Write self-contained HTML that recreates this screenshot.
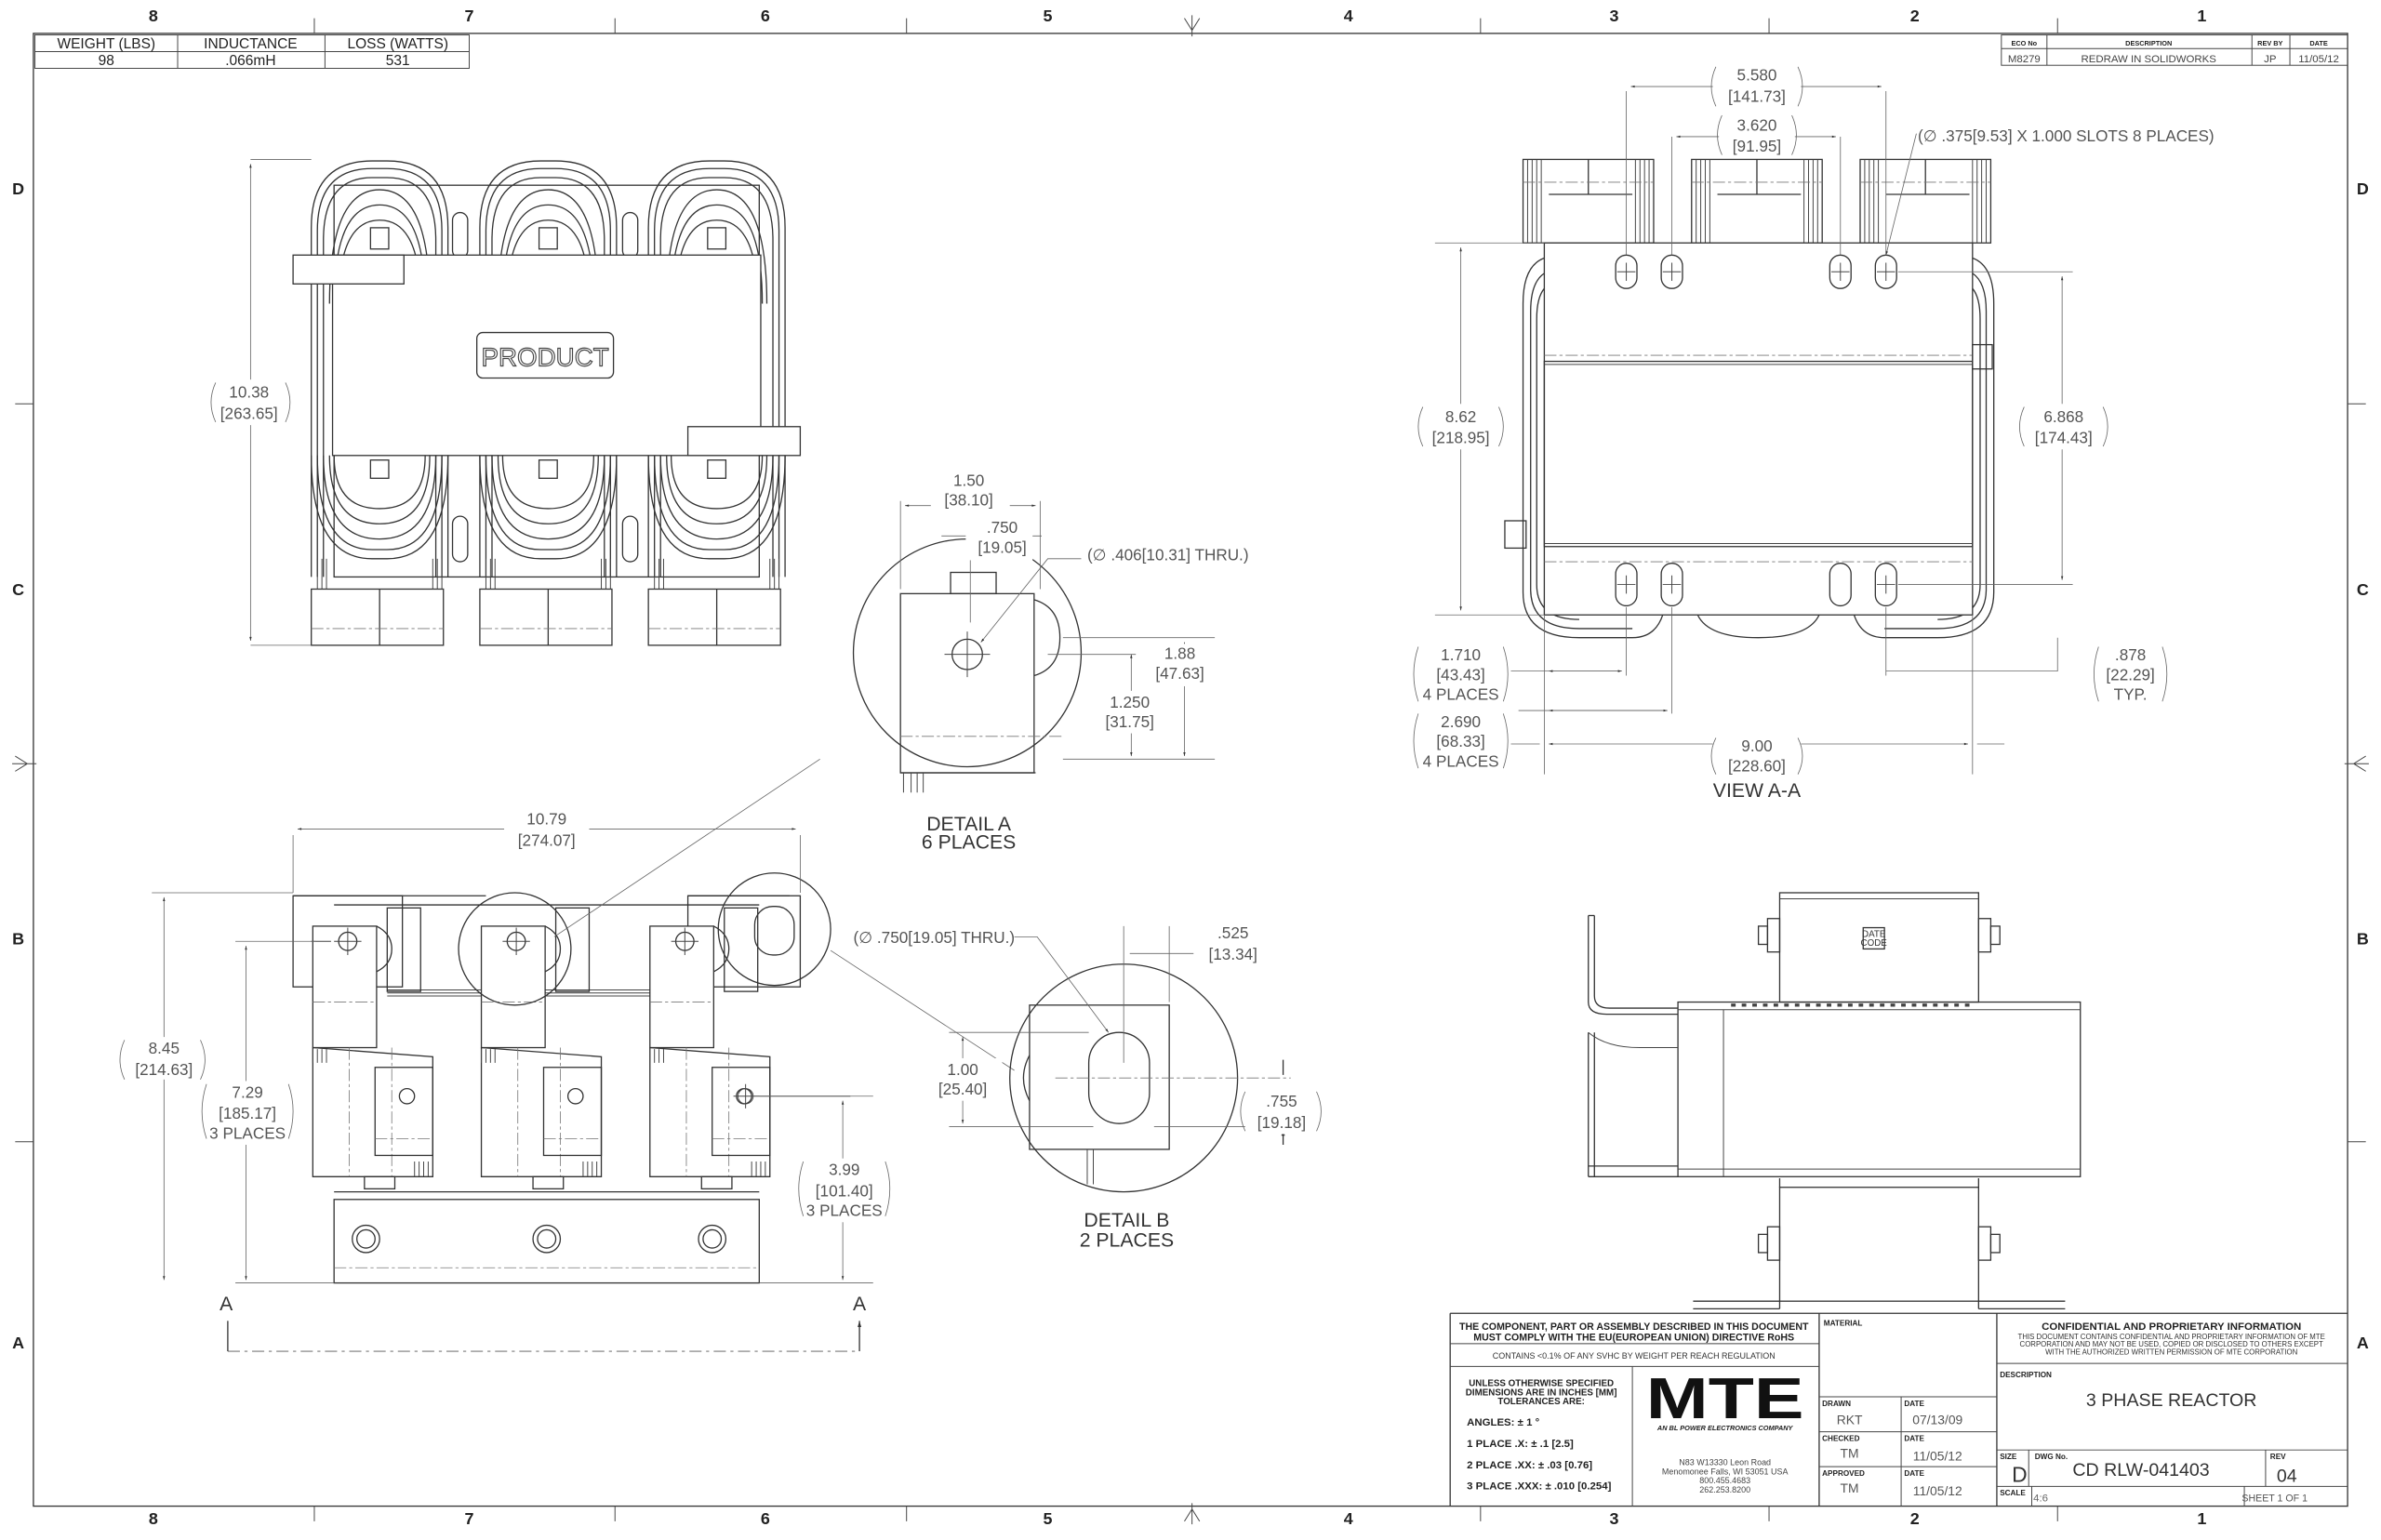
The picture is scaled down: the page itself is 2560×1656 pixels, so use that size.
<!DOCTYPE html>
<html><head><meta charset="utf-8"><style>
html,body{margin:0;padding:0;background:#fff;}
svg{display:block;}
text{font-family:"Liberation Sans",sans-serif;}
.l{stroke:#333;stroke-width:0.8;fill:none;}
.t{stroke:#444;stroke-width:0.6;fill:none;}
.d{stroke:#666;stroke-width:0.5;fill:none;}
.c{stroke:#777;stroke-width:0.5;fill:none;stroke-dasharray:8 2 2 2;}
.w{fill:#fff;stroke:#333;stroke-width:0.8;}
.dim{fill:#555;font-size:10.5px;text-anchor:middle;}
.b{font-weight:bold;font-size:11px;fill:#222;text-anchor:middle;}
.s{font-size:6px;fill:#333;}
</style></head><body>
<svg width="2560" height="1656" viewBox="0 0 1568 1014.3" xmlns="http://www.w3.org/2000/svg">
<defs>
<marker id="ar" viewBox="0 0 10 10" refX="10" refY="5" markerWidth="7" markerHeight="5" orient="auto-start-reverse"><path d="M0,2 L10,5 L0,8z" fill="#333"/></marker>
</defs>
<rect width="1568" height="1014.3" fill="#fff"/>
<rect x="22" y="22" width="1524" height="970" class="l" stroke-width="1"/>
<g class="b">
<text x="101" y="14">8</text><text x="309" y="14">7</text><text x="504" y="14">6</text><text x="690" y="14">5</text><text x="888" y="14">4</text><text x="1063" y="14">3</text><text x="1261" y="14">2</text><text x="1450" y="14">1</text>
<text x="101" y="1004">8</text><text x="309" y="1004">7</text><text x="504" y="1004">6</text><text x="690" y="1004">5</text><text x="888" y="1004">4</text><text x="1063" y="1004">3</text><text x="1261" y="1004">2</text><text x="1450" y="1004">1</text>
<text x="12" y="128">D</text><text x="12" y="392">C</text><text x="12" y="622">B</text><text x="12" y="888">A</text>
<text x="1556" y="128">D</text><text x="1556" y="392">C</text><text x="1556" y="622">B</text><text x="1556" y="888">A</text>
</g>
<g class="t">
<path d="M207 12V22M405 12V22M597 12V22M975 12V22M1165 12V22M1355 12V22M207 992V1002M405 992V1002M597 992V1002M975 992V1002M1165 992V1002M1355 992V1002"/>
<path d="M10 266H22M10 752H22M1546 266H1558M1546 752H1558"/>
<path d="M785 10V24M780 12L785 20L790 12M785 990V1004M780 1002L785 994L790 1002M8 503H24M10 498L18 503L10 508M1544 503H1560M1558 498L1550 503L1558 508"/>
</g>
<g>
<rect x="23" y="23" width="286" height="22" class="t"/>
<path d="M23 34H309M117 23V45M214 23V45" class="t"/>
<g font-size="9.5" fill="#222" text-anchor="middle"><text x="70" y="32">WEIGHT (LBS)</text><text x="165" y="32">INDUCTANCE</text><text x="262" y="32">LOSS (WATTS)</text>
<text x="70" y="43">98</text><text x="165" y="43">.066mH</text><text x="262" y="43">531</text></g>
</g>
<g>
<rect x="1318" y="23" width="228" height="20" class="t"/>
<path d="M1318 32H1546M1348 23V43M1483 23V43M1508 23V43" class="t"/>
<g font-size="4.5" font-weight="bold" fill="#222" text-anchor="middle"><text x="1333" y="30">ECO No</text><text x="1415" y="30">DESCRIPTION</text><text x="1495" y="30">REV BY</text><text x="1527" y="30">DATE</text></g>
<g font-size="7" fill="#444" text-anchor="middle"><text x="1333" y="41">M8279</text><text x="1415" y="41">REDRAW IN SOLIDWORKS</text><text x="1495" y="41">JP</text><text x="1527" y="41">11/05/12</text></g>
</g>

<!-- TOP VIEW -->
<g>
<rect x="220" y="122" width="280" height="258" class="l"/>
<g id="coil">
<path d="M205 380V150Q205 106 245 106H255Q295 106 295 150V380" class="l"/>
<path d="M209 380V152Q209 111 245 111H255Q291 111 291 152V380" class="l"/>
<path d="M213 380V158Q213 117 245 117H255Q287 117 287 158V380" class="l"/>
<path d="M217 200Q217 125 250 125Q283 125 283 200" class="l"/>
<path d="M220 200Q220 135 250 135Q280 135 280 200" class="l"/>
<path d="M223 200Q223 145 250 145Q277 145 277 200" class="l"/>
<path d="M205 300Q205 368 245 368H255Q295 368 295 300" class="l"/>
<path d="M209 300Q209 362 245 362H255Q291 362 291 300" class="l"/>
<path d="M213 300Q213 355 250 355Q287 355 287 300" class="l"/>
<path d="M217 300Q217 345 250 345Q283 345 283 300" class="l"/>
<path d="M220 300Q220 335 250 335Q280 335 280 300" class="l"/>
<rect x="244" y="150" width="12" height="14" class="l"/>
<rect x="244" y="303" width="12" height="12" class="l"/>
<rect x="205" y="388" width="87" height="37" class="l"/><path d="M250 388V425" class="l"/><path d="M205 414H292" class="c"/>
<path d="M209 368V388M212 368V388M215 368V388M285 368V388M288 368V388M291 368V388" class="t"/>
</g>
<use href="#coil" x="111"/>
<use href="#coil" x="222"/>
<rect x="298" y="140" width="10" height="30" rx="5" class="l"/><rect x="410" y="140" width="10" height="30" rx="5" class="l"/>
<rect x="298" y="340" width="10" height="30" rx="5" class="l"/><rect x="410" y="340" width="10" height="30" rx="5" class="l"/>
<rect x="219" y="168" width="282" height="132" class="w"/>
<rect x="193" y="168" width="73" height="19" class="w"/>
<rect x="453" y="281" width="74" height="19" class="w"/>
<rect x="314" y="219" width="90" height="30" rx="4" class="l"/>
<text x="359" y="241" font-size="17" fill="#fff" stroke="#444" stroke-width="0.7" text-anchor="middle">PRODUCT</text>
<path d="M165 105H205M165 425H205" class="d"/>
<path d="M165 108V422" class="d" marker-start="url(#ar)" marker-end="url(#ar)"/>
<rect x="140" y="250" width="50" height="30" fill="#fff"/>
<text x="164" y="262" class="dim">10.38</text><text x="164" y="276" class="dim">[263.65]</text>
<path d="M142 252Q136 265 142 278M188 252Q194 265 188 278" class="d"/>
</g>

<!-- DETAIL A -->
<g>
<circle cx="637" cy="430" r="75" class="l"/>
<rect x="593" y="391" width="88" height="118" class="l"/>
<rect x="626" y="377" width="30" height="14" class="l"/>
<path d="M681 395Q698 400 698 420Q698 440 681 445" class="l"/>
<path d="M593 485H700" class="c"/>
<path d="M593 509H682" class="l"/>
<circle cx="637" cy="431" r="10" class="l"/><path d="M622 431H652M637 416V446" class="t"/>
<path d="M595 509V522M600 509V522M604 509V522M608 509V522" class="t"/>
<path d="M593 330V388M685 330V388M639 350V410" class="d"/>
<path d="M596 333H682" class="d" marker-start="url(#ar)" marker-end="url(#ar)"/>
<path d="M620 353H686" class="d"/>
<rect x="613" y="310" width="52" height="28" fill="#fff"/>
<text x="638" y="320" class="dim">1.50</text><text x="638" y="333" class="dim">[38.10]</text>
<rect x="636" y="341" width="44" height="28" fill="#fff"/>
<text x="660" y="351" class="dim">.750</text><text x="660" y="364" class="dim">[19.05]</text>
<path d="M646 423L690 368H712" class="d" marker-start="url(#ar)"/>
<text x="716" y="369" class="dim" style="text-anchor:start">(&#8709; .406[10.31] THRU.)</text>
<path d="M700 420H800M700 500H800M690 431H748" class="d"/>
<path d="M780 423V498" class="d" marker-start="url(#ar)" marker-end="url(#ar)"/>
<path d="M745 431V498" class="d" marker-start="url(#ar)" marker-end="url(#ar)"/>
<rect x="752" y="424" width="50" height="28" fill="#fff"/>
<text x="777" y="434" class="dim">1.88</text><text x="777" y="447" class="dim">[47.63]</text>
<rect x="718" y="455" width="50" height="28" fill="#fff"/>
<text x="744" y="466" class="dim">1.250</text><text x="744" y="479" class="dim">[31.75]</text>
<text x="638" y="547" font-size="13" fill="#333" text-anchor="middle">DETAIL A</text>
<text x="638" y="559" font-size="13" fill="#333" text-anchor="middle">6 PLACES</text>
</g>

<!-- FRONT VIEW -->
<g>
<rect x="193" y="590" width="72" height="60" class="l"/>
<rect x="453" y="590" width="74" height="60" class="l"/>
<path d="M193 590H320M453 590H520" class="l"/>
<path d="M220 596H500" class="l"/>
<path d="M255 652H460M255 654H460M255 656H460" class="t"/>
<g id="term">
<rect x="206" y="610" width="42" height="80" class="w"/>
<rect x="255" y="598" width="22" height="55" class="l"/>
<circle cx="229" cy="620" r="6" class="l"/><path d="M220 620H238M229 611V629" class="t"/>
<path d="M206 660H248" class="c"/>
<path d="M248 610Q258 615 258 625Q258 635 248 640" class="l"/>
<path d="M206 690V775H285V696L206 690" class="l"/>
<path d="M230 690V775M258 690V775" class="c"/>
<rect x="247" y="703" width="38" height="58" class="l"/>
<circle cx="268" cy="722" r="5" class="l"/>
<path d="M247 750H285" class="c"/>
<path d="M206 691V700M209 691V700M212 691V700M215 691V700M273 765V775M276 765V775M279 765V775M282 765V775" class="t"/>
<rect x="240" y="775" width="20" height="8" class="l"/>
</g>
<use href="#term" x="111"/>
<use href="#term" x="222"/>
<circle cx="491" cy="722" r="5" class="t"/><path d="M483 722H499M491 714V730M499 722H560" class="t"/>
<path d="M205 620H218" class="t"/>
<circle cx="510" cy="612" r="37" class="l"/>
<rect x="497" y="597" width="26" height="32" rx="12" class="l"/>
<circle cx="339" cy="625" r="37" class="l"/>
<rect x="220" y="790" width="280" height="55" class="l"/>
<path d="M220 785H500" class="l"/>
<path d="M220 835H500" class="c"/>
<g class="l"><circle cx="241" cy="816" r="9"/><circle cx="241" cy="816" r="6"/><circle cx="360" cy="816" r="9"/><circle cx="360" cy="816" r="6"/><circle cx="469" cy="816" r="9"/><circle cx="469" cy="816" r="6"/></g>
<path d="M365 617L540 500" class="d"/>
<path d="M547 626L668 705" class="d"/>
<path d="M193 550V588M527 550V588" class="d"/>
<path d="M196 546H524" class="d" marker-start="url(#ar)" marker-end="url(#ar)"/>
<rect x="332" y="532" width="56" height="28" fill="#fff"/>
<text x="360" y="543" class="dim">10.79</text><text x="360" y="557" class="dim">[274.07]</text>
<path d="M100 588H193M155 620H208M155 845H220" class="d"/>
<path d="M108 591V843" class="d" marker-start="url(#ar)" marker-end="url(#ar)"/>
<path d="M162 623V843" class="d" marker-start="url(#ar)" marker-end="url(#ar)"/>
<rect x="80" y="683" width="56" height="28" fill="#fff"/>
<text x="108" y="694" class="dim">8.45</text><text x="108" y="708" class="dim">[214.63]</text>
<path d="M82 685Q76 698 82 711M132 685Q138 698 132 711" class="d"/>
<rect x="134" y="712" width="56" height="42" fill="#fff"/>
<text x="163" y="723" class="dim">7.29</text><text x="163" y="737" class="dim">[185.17]</text><text x="163" y="750" class="dim">3 PLACES</text>
<path d="M136 714Q130 732 136 750M190 714Q196 732 190 750" class="d"/>
<path d="M500 722H575M500 845H575" class="d"/>
<path d="M555 725V843" class="d" marker-start="url(#ar)" marker-end="url(#ar)"/>
<rect x="527" y="763" width="56" height="42" fill="#fff"/>
<text x="556" y="774" class="dim">3.99</text><text x="556" y="788" class="dim">[101.40]</text><text x="556" y="801" class="dim">3 PLACES</text>
<path d="M529 765Q523 783 529 801M583 765Q589 783 583 801" class="d"/>
<path d="M150 890H566" stroke="#555" stroke-width="0.6" stroke-dasharray="8 3 2 3" fill="none"/>
<path d="M150 890V870M566 890V870" class="l" marker-end="url(#ar)"/>
<text x="149" y="863" font-size="13" fill="#333" text-anchor="middle">A</text>
<text x="566" y="863" font-size="13" fill="#333" text-anchor="middle">A</text>
</g>

<!-- DETAIL B -->
<g>
<circle cx="740" cy="710" r="75" class="l"/>
<rect x="678" y="662" width="92" height="95" class="l"/>
<rect x="717" y="680" width="40" height="60" rx="20" class="l"/>
<path d="M678 695Q670 710 678 725" class="l"/>
<path d="M716 757V780M720 757V780" class="t"/>
<path d="M695 710H850" class="c"/>
<path d="M740 610V700M770 610V660" class="d"/>
<path d="M744 628H786" class="d"/>
<rect x="789" y="608" width="46" height="28" fill="#fff"/>
<text x="812" y="618" class="dim">.525</text><text x="812" y="632" class="dim">[13.34]</text>
<path d="M730 680L683 617H668" class="d" marker-start="url(#ar)"/>
<text x="562" y="621" class="dim" style="text-anchor:start">(&#8709; .750[19.05] THRU.)</text>
<path d="M625 680H717M625 742H720" class="d"/>
<path d="M634 683V740" class="d" marker-start="url(#ar)" marker-end="url(#ar)"/>
<rect x="610" y="697" width="50" height="28" fill="#fff"/>
<text x="634" y="708" class="dim">1.00</text><text x="634" y="721" class="dim">[25.40]</text>
<path d="M760 742H855" class="d"/>
<path d="M845 698V708M845 754V744" class="l" marker-end="url(#ar)"/>
<rect x="820" y="717" width="48" height="30" fill="#fff"/>
<text x="844" y="729" class="dim">.755</text><text x="844" y="743" class="dim">[19.18]</text>
<path d="M820 719Q814 732 820 745M867 719Q873 732 867 745" class="d"/>
<text x="742" y="808" font-size="13" fill="#333" text-anchor="middle">DETAIL B</text>
<text x="742" y="821" font-size="13" fill="#333" text-anchor="middle">2 PLACES</text>
</g>

<!-- VIEW A-A -->
<g>
<g id="sh">
<rect x="1003" y="105" width="86" height="55" class="l"/>
<path d="M1006 105V160M1009 105V160M1012 105V160M1015 105V160M1077 105V160M1080 105V160M1083 105V160M1086 105V160" class="t"/>
<path d="M1046 105V128M1020 128H1075" class="l"/>
<path d="M1003 120H1089" class="c"/>
</g>
<use href="#sh" x="111"/>
<use href="#sh" x="222"/>
<path d="M1017 170Q1003 175 1003 200V390Q1003 420 1040 420H1075Q1090 420 1095 405" class="l"/>
<path d="M1017 180Q1008 186 1008 205V388Q1008 414 1040 414H1075" class="l"/>
<path d="M1017 190Q1012 196 1012 210V385Q1012 408 1040 408" class="l"/>
<path d="M1299 170Q1313 175 1313 200V390Q1313 420 1276 420H1241Q1226 420 1221 405" class="l"/>
<path d="M1299 180Q1308 186 1308 205V388Q1308 414 1276 414H1241" class="l"/>
<path d="M1299 190Q1304 196 1304 210V385Q1304 408 1276 408" class="l"/>
<path d="M1118 405Q1125 420 1158 420Q1191 420 1198 405" class="l"/>
<rect x="1017" y="160" width="282" height="245" class="w"/>
<path d="M1017 234H1299M1017 370H1299" class="c"/>
<rect x="1017" y="238" width="282" height="122" class="l"/>
<path d="M1017 240H1299M1017 358H1299" class="t"/>
<rect x="1299" y="227" width="13" height="16" class="l"/>
<rect x="991" y="343" width="14" height="18" class="l"/>
<g class="l">
<rect x="1064" y="168" width="14" height="22" rx="7"/><rect x="1094" y="168" width="14" height="22" rx="7"/><rect x="1205" y="168" width="14" height="22" rx="7"/><rect x="1235" y="168" width="14" height="22" rx="7"/>
<rect x="1064" y="371" width="14" height="28" rx="7"/><rect x="1094" y="371" width="14" height="28" rx="7"/><rect x="1205" y="371" width="14" height="28" rx="7"/><rect x="1235" y="371" width="14" height="28" rx="7"/>
</g>
<path d="M1065 179H1077M1071 173V185M1095 179H1107M1101 173V185M1206 179H1218M1212 173V185M1236 179H1248M1242 173V185M1065 385H1077M1071 379V391M1095 385H1107M1101 379V391M1236 385H1248M1242 379V391" class="t"/>
<path d="M1071 60V168M1101 90V168M1212 90V168M1242 60V168" class="d"/>
<path d="M1074 57H1239" class="d" marker-start="url(#ar)" marker-end="url(#ar)"/>
<path d="M1104 90H1209" class="d" marker-start="url(#ar)" marker-end="url(#ar)"/>
<rect x="1128" y="42" width="58" height="30" fill="#fff"/>
<text x="1157" y="53" class="dim">5.580</text><text x="1157" y="67" class="dim">[141.73]</text>
<path d="M1130 44Q1124 57 1130 70M1184 44Q1190 57 1184 70" class="d"/>
<rect x="1132" y="74" width="50" height="30" fill="#fff"/>
<text x="1157" y="86" class="dim">3.620</text><text x="1157" y="100" class="dim">[91.95]</text>
<path d="M1134 76Q1128 89 1134 102M1180 76Q1186 89 1180 102" class="d"/>
<path d="M1242 168L1262 88" class="d" marker-start="url(#ar)"/>
<text x="1263" y="93" class="dim" style="text-anchor:start">(&#8709; .375[9.53] X 1.000 SLOTS 8 PLACES)</text>
<path d="M945 160H1017M945 405H1017" class="d"/>
<path d="M962 163V402" class="d" marker-start="url(#ar)" marker-end="url(#ar)"/>
<rect x="935" y="266" width="54" height="30" fill="#fff"/>
<text x="962" y="278" class="dim">8.62</text><text x="962" y="292" class="dim">[218.95]</text>
<path d="M937 268Q931 281 937 294M987 268Q993 281 987 294" class="d"/>
<path d="M1250 179H1365M1250 385H1365" class="d"/>
<path d="M1358 182V382" class="d" marker-start="url(#ar)" marker-end="url(#ar)"/>
<rect x="1331" y="266" width="56" height="30" fill="#fff"/>
<text x="1359" y="278" class="dim">6.868</text><text x="1359" y="292" class="dim">[174.43]</text>
<path d="M1333 268Q1327 281 1333 294M1385 268Q1391 281 1385 294" class="d"/>
<path d="M1017 405V510M1071 400V445M1101 400V470M1299 405V510M1242 400V445" class="d"/>
<path d="M995 442H1068M1000 468H1098M995 490H1014M1302 490H1320" class="d"/>
<path d="M1020 442H1068" class="d" marker-start="url(#ar)" marker-end="url(#ar)"/>
<path d="M1020 468H1098" class="d" marker-start="url(#ar)" marker-end="url(#ar)"/>
<path d="M1020 490H1296" class="d" marker-start="url(#ar)" marker-end="url(#ar)"/>
<path d="M1242 442H1355V420" class="d"/>
<rect x="932" y="424" width="58" height="40" fill="#fff"/>
<text x="962" y="435" class="dim">1.710</text><text x="962" y="448" class="dim">[43.43]</text><text x="962" y="461" class="dim">4 PLACES</text>
<path d="M934 426Q928 444 934 462M990 426Q996 444 990 462" class="d"/>
<rect x="932" y="468" width="58" height="40" fill="#fff"/>
<text x="962" y="479" class="dim">2.690</text><text x="962" y="492" class="dim">[68.33]</text><text x="962" y="505" class="dim">4 PLACES</text>
<path d="M934 470Q928 488 934 506M990 470Q996 488 990 506" class="d"/>
<rect x="1128" y="484" width="58" height="28" fill="#fff"/>
<text x="1157" y="495" class="dim">9.00</text><text x="1157" y="508" class="dim">[228.60]</text>
<path d="M1130 486Q1124 498 1130 510M1184 486Q1190 498 1184 510" class="d"/>
<rect x="1380" y="424" width="46" height="40" fill="#fff"/>
<text x="1403" y="435" class="dim">.878</text><text x="1403" y="448" class="dim">[22.29]</text><text x="1403" y="461" class="dim">TYP.</text>
<path d="M1382 426Q1376 444 1382 462M1424 426Q1430 444 1424 462" class="d"/>
<text x="1157" y="525" font-size="13" fill="#333" text-anchor="middle">VIEW A-A</text>
</g>

<!-- SIDE VIEW -->
<g>
<rect x="1172" y="588" width="131" height="72" class="l"/>
<path d="M1172 592H1303" class="t"/>
<rect x="1164" y="605" width="8" height="22" class="l"/><rect x="1303" y="605" width="8" height="22" class="l"/>
<rect x="1311" y="610" width="6" height="12" class="l"/><rect x="1158" y="610" width="6" height="12" class="l"/>
<rect x="1227" y="611" width="14" height="14" class="l"/>
<text x="1234" y="617" class="s" font-size="4" text-anchor="middle">DATE</text><text x="1234" y="623" class="s" font-size="4" text-anchor="middle">CODE</text>
<path d="M1046 603V660Q1046 668 1058 668H1105" class="l"/>
<path d="M1050 603V656Q1050 664 1060 664H1105" class="l"/>
<path d="M1046 603H1050" class="l"/>
<rect x="1105" y="660" width="265" height="115" class="l"/>
<path d="M1105 665H1370M1135 665V775" class="t"/>
<path d="M1105 770H1370" class="t"/>
<path d="M1140 662H1300" stroke="#444" stroke-width="2" stroke-dasharray="3 4" fill="none"/>
<path d="M1046 680V775M1050 680V775M1046 768H1105M1046 775H1105" class="l"/>
<path d="M1046 680Q1058 690 1080 690H1105" class="t"/>
<rect x="1172" y="782" width="131" height="75" class="l"/>
<rect x="1164" y="808" width="8" height="22" class="l"/><rect x="1303" y="808" width="8" height="22" class="l"/>
<rect x="1311" y="813" width="6" height="12" class="l"/><rect x="1158" y="813" width="6" height="12" class="l"/>
<path d="M1115 857H1172M1303 857H1360M1115 862H1172M1303 862H1360M1172 857L1172 862M1303 857V862" class="l"/>
<path d="M1172 776V782M1303 776V782" class="l"/>
</g>

<!-- TITLE BLOCK -->
<g>
<path d="M955 865H1546M955 865V992M1198 865V992M1315 865V992" class="l"/>
<path d="M955 885H1198M955 900H1198M1075 900V992" class="t"/>
<path d="M1198 920H1315M1198 943H1315M1198 966H1315M1252 920V992" class="t"/>
<path d="M1315 898H1546M1315 955H1546M1315 979H1546M1336 955V979M1492 955V979M1338 979V992M1478 979V992" class="t"/>
<g font-size="6.5" font-weight="bold" fill="#222" text-anchor="middle">
<text x="1076" y="876">THE COMPONENT, PART OR ASSEMBLY DESCRIBED IN THIS DOCUMENT</text>
<text x="1076" y="883">MUST COMPLY WITH THE EU(EUROPEAN UNION) DIRECTIVE RoHS</text>
<text x="1430" y="876" font-size="7">CONFIDENTIAL AND PROPRIETARY INFORMATION</text>
<text x="1015" y="913" font-size="6">UNLESS OTHERWISE SPECIFIED</text>
<text x="1015" y="919" font-size="6">DIMENSIONS ARE IN INCHES [MM]</text>
<text x="1015" y="925" font-size="6">TOLERANCES ARE:</text>
</g>
<text x="1076" y="895" font-size="5.5" fill="#333" text-anchor="middle">CONTAINS &lt;0.1% OF ANY SVHC BY WEIGHT PER REACH REGULATION</text>
<g font-size="4.8" fill="#333" text-anchor="middle">
<text x="1430" y="882">THIS DOCUMENT CONTAINS CONFIDENTIAL AND PROPRIETARY INFORMATION OF MTE</text>
<text x="1430" y="887">CORPORATION AND MAY NOT BE USED, COPIED OR DISCLOSED TO OTHERS EXCEPT</text>
<text x="1430" y="892">WITH THE AUTHORIZED WRITTEN PERMISSION OF MTE CORPORATION</text>
</g>
<g font-size="7" font-weight="bold" fill="#222">
<text x="966" y="939">ANGLES: &#177; 1 &#176;</text>
<text x="966" y="953">1 PLACE .X: &#177; .1 [2.5]</text>
<text x="966" y="967">2 PLACE .XX: &#177; .03 [0.76]</text>
<text x="966" y="981">3 PLACE .XXX: &#177; .010 [0.254]</text>
</g>
<text x="1136" y="934" font-size="38" font-weight="bold" fill="#111" text-anchor="middle" textLength="104" lengthAdjust="spacingAndGlyphs">MTE</text>
<text x="1136" y="942" font-size="4.5" font-style="italic" font-weight="bold" fill="#222" text-anchor="middle">AN BL POWER ELECTRONICS COMPANY</text>
<g font-size="5.5" fill="#444" text-anchor="middle">
<text x="1136" y="965">N83 W13330 Leon Road</text><text x="1136" y="971">Menomonee Falls, WI 53051 USA</text><text x="1136" y="977">800.455.4683</text><text x="1136" y="983">262.253.8200</text>
</g>
<g font-size="5" font-weight="bold" fill="#222">
<text x="1201" y="873">MATERIAL</text>
<text x="1200" y="926">DRAWN</text><text x="1254" y="926">DATE</text>
<text x="1200" y="949">CHECKED</text><text x="1254" y="949">DATE</text>
<text x="1200" y="972">APPROVED</text><text x="1254" y="972">DATE</text>
<text x="1317" y="907">DESCRIPTION</text>
<text x="1317" y="961">SIZE</text><text x="1340" y="961">DWG No.</text><text x="1495" y="961">REV</text>
<text x="1317" y="985">SCALE</text>
</g>
<g font-size="8.5" fill="#555" text-anchor="middle">
<text x="1218" y="938">RKT</text><text x="1276" y="938">07/13/09</text>
<text x="1218" y="960">TM</text><text x="1276" y="962">11/05/12</text>
<text x="1218" y="983">TM</text><text x="1276" y="985">11/05/12</text>
</g>
<text x="1430" y="926" font-size="12" fill="#333" text-anchor="middle">3 PHASE REACTOR</text>
<text x="1330" y="976" font-size="14" fill="#333" text-anchor="middle">D</text>
<text x="1410" y="972" font-size="12" fill="#333" text-anchor="middle">CD RLW-041403</text>
<text x="1506" y="976" font-size="12" fill="#333" text-anchor="middle">04</text>
<text x="1339" y="989" font-size="7" fill="#666">4:6</text>
<text x="1498" y="989" font-size="6.5" fill="#555" text-anchor="middle">SHEET 1  OF 1</text>
</g>
</svg>
</body></html>
